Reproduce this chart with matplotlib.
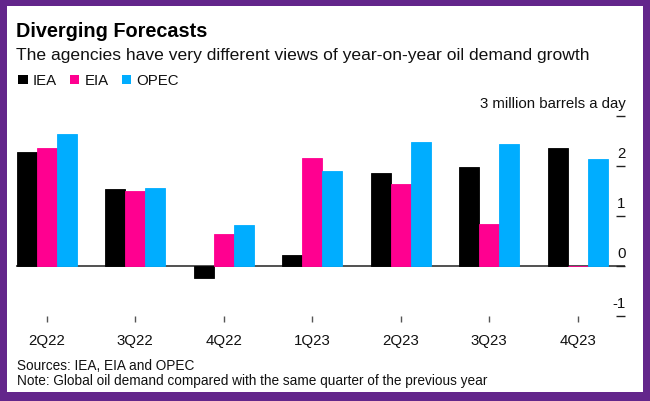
import matplotlib
matplotlib.use("Agg")
import matplotlib.pyplot as plt
from matplotlib.patches import Rectangle
import numpy as np

plt.rcParams['font.family'] = ['Liberation Sans', 'DejaVu Sans']

quarters = ['2Q22', '3Q22', '4Q22', '1Q23', '2Q23', '3Q23', '4Q23']
iea = [2.28, 1.54, -0.24, 0.22, 1.86, 1.98, 2.36]
eia = [2.36, 1.50, 0.64, 2.16, 1.64, 0.84, 0.0]
opec = [2.64, 1.56, 0.82, 1.90, 2.48, 2.44, 2.14]
series = [('IEA', iea, '#000000'), ('EIA', eia, '#ff0090'), ('OPEC', opec, '#00adff')]
yticks = [3, 2, 1, 0, -1]
ytick_labels = ['3 million barrels a day', '2', '1', '0', '-1']

W, H = 650, 402
fig = plt.figure(figsize=(W / 100, H / 100), dpi=100)
fig.patch.set_facecolor('#63268b')
fig.patches.append(Rectangle((7 / W, 9 / H), 636 / W, 386 / H, transform=fig.transFigure,
                             facecolor='white', edgecolor='none', zorder=-5))

def px(x, y):
    # pixel from top-left -> figure fraction
    return x / W, 1 - y / H

ax = fig.add_axes([16 / W, (H - 317) / H, 609 / W, 200 / H])
ax.set_facecolor('none')
ax.set_zorder(2)

x = np.arange(len(quarters))
bw = 0.226
for i, (name, vals, col) in enumerate(series):
    ax.bar(x + (i - 1) * bw, vals, width=bw, color=col, edgecolor=col, linewidth=0.6, zorder=3)

ax.axhline(0, color='#222222', lw=1.1, zorder=2)
ax.set_xlim(-0.347, 6.535)
ax.set_ylim(-1, 3)

for s in ax.spines.values():
    s.set_visible(False)

ax.set_xticks(x)
ax.set_xticklabels(quarters, fontsize=10.8, color='#111111')
ax.tick_params(axis='x', direction='out', length=4, width=1, color='#555555', pad=8)

ax.yaxis.tick_right()
ax.set_yticks(yticks)
ax.set_yticklabels([])
ax.tick_params(axis='y', direction='in', length=6.5, width=1, color='#222222', pad=0)
for v, lab in zip(yticks, ytick_labels):
    ax.annotate(lab, xy=(1.0, v), xycoords=ax.get_yaxis_transform(),
                xytext=(0.5, 6.2), textcoords='offset points',
                ha='right', va='baseline', fontsize=10.8, color='#111111')

fig.text(*px(16, 36.7), 'Diverging Forecasts', fontsize=14.3, fontweight='bold',
         va='baseline', ha='left', color='black')
fig.text(*px(16, 60), 'The agencies have very different views of year-on-year oil demand growth',
         fontsize=12.6, va='baseline', ha='left', color='#111111')

# legend
renderer = fig.canvas.get_renderer()
lx = 18.3
for name, vals, col in series:
    fig.patches.append(Rectangle(px(lx, 85), 9.5 / W, 9 / H, transform=fig.transFigure,
                                 facecolor=col, edgecolor='none'))
    t = fig.text(*px(lx + 14.5, 85), name, fontsize=10.8, va='baseline', ha='left', color='#111111')
    wpx = t.get_window_extent(renderer).width
    lx = lx + 14.5 + wpx + 13

fig.text(*px(16.6, 370), 'Sources: IEA, EIA and OPEC', fontsize=9.8, va='baseline', ha='left',
         color='#111111')
fig.text(*px(16.6, 385), 'Note: Global oil demand compared with the same quarter of the previous year',
         fontsize=9.8, va='baseline', ha='left', color='#111111')

fig.savefig('out.png', dpi=100, facecolor=fig.get_facecolor())
